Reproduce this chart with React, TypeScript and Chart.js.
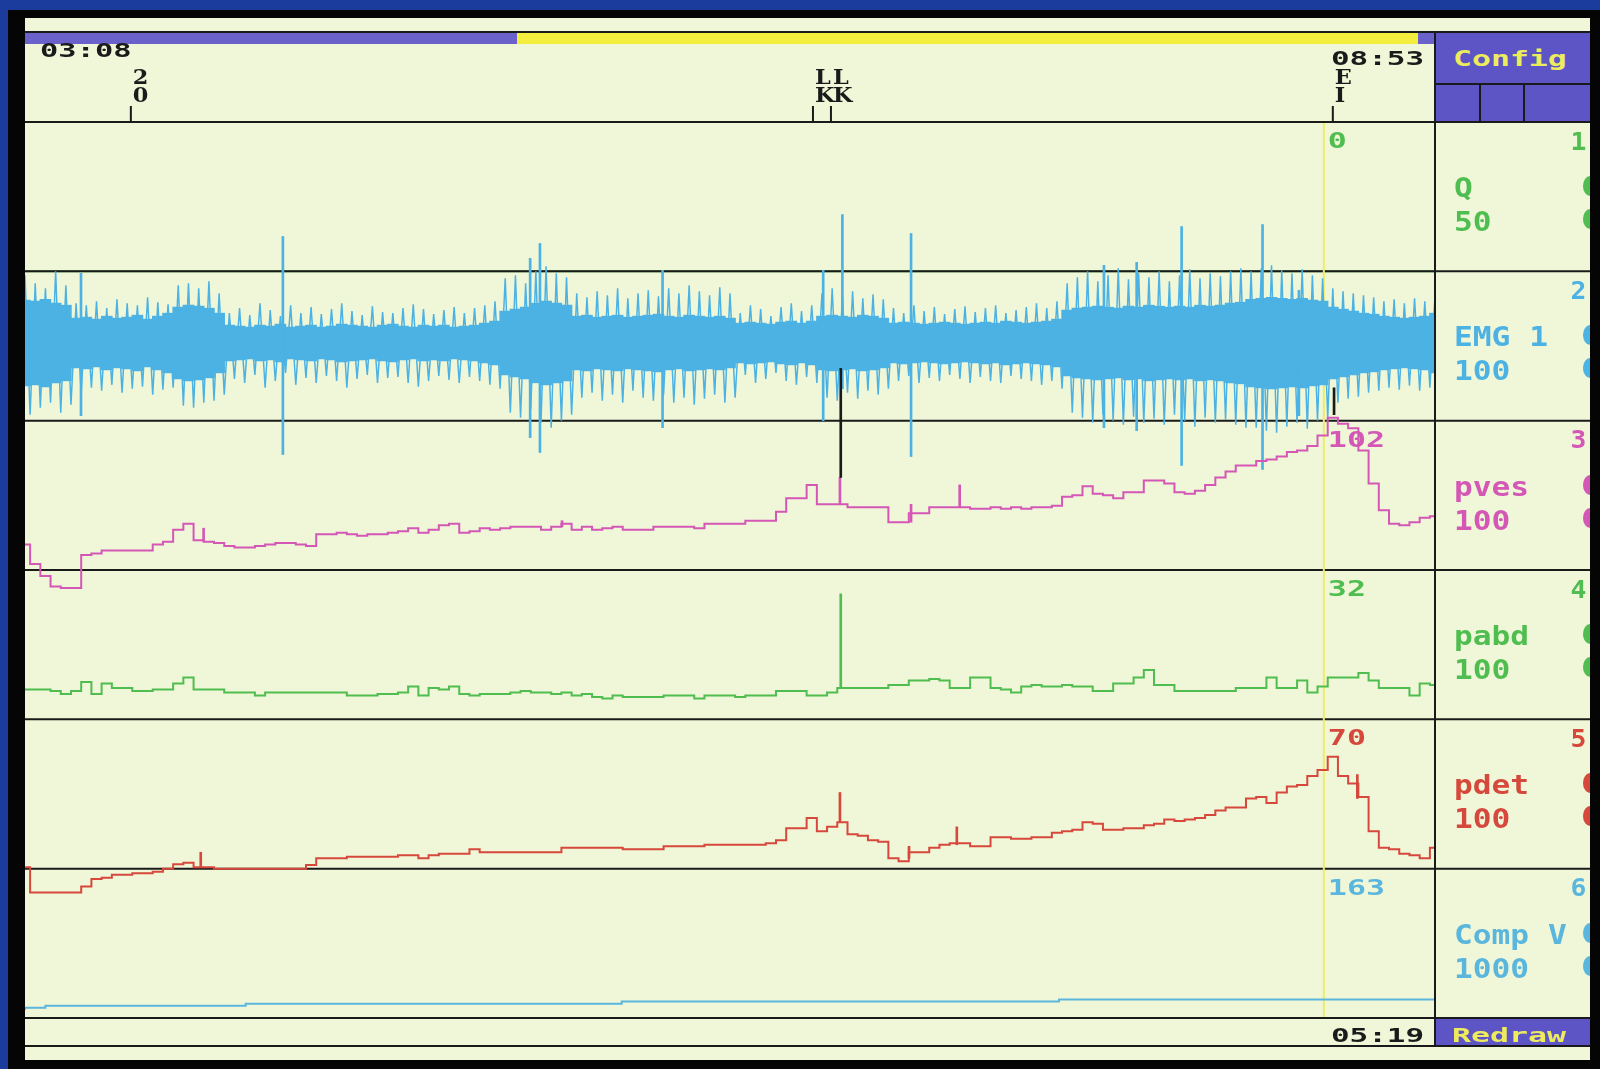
import React, { useEffect, useRef } from 'react';
import { Chart, registerables } from 'chart.js';

Chart.register(...registerables);

// ---------------- DATA ----------------
// time axis: seconds after 03:08, one sample every 2.5 s
const T_STEP = 2.5;
const T_MAX = 345;
const CURSOR_T = 317.8;

const startLabel = '03:08';
const endLabel = '08:53';
const cursorLabel = '05:19';

const channelNames = ['Q', 'EMG 1', 'pves', 'pabd', 'pdet', 'Comp V'];
const channelRanges = ['50', '100', '100', '100', '100', '1000'];
const channelNumbers = ['1', '2', '3', '4', '5', '6'];
const cursorReadouts = ['0', '', '102', '32', '70', '163'];

const eventTimes = [25.9, 192.8, 197.2, 320.0];
const eventLabels = ['20', 'LK', 'LK', 'EI'];

const qTimes = [0, 345];
const qValues = [0, 0];

const emgCore = [
  43, 42, 44, 40, 38,
  25, 26, 24, 27, 25, 26, 28, 24, 27, 30,
  36, 38, 37, 35, 30,
  18, 17, 16, 18, 17, 19, 16, 17, 18, 16, 17, 19, 18, 17, 16, 18, 19, 17, 16, 18, 17, 18, 16, 17, 18, 20, 22,
  32, 34, 36,
  40, 42, 40, 38,
  27, 28, 26, 27, 28, 26, 27, 28, 29,
  27, 26, 28, 27, 26, 27, 25,
  20, 21, 20, 19, 21, 22, 20, 22,
  27, 28, 27, 26, 28, 27, 25,
  20, 21, 20, 19, 20, 21, 20, 19, 20, 21, 20, 22, 21, 20, 21, 22, 24,
  33, 35, 36, 37, 36, 35, 37, 36, 38, 37, 36, 37, 36, 38, 37, 38, 40, 41,
  44, 45, 46, 45, 44, 45, 43, 42,
  36, 34, 32, 30, 29, 27, 26, 25, 26, 27, 30,
];
const emgHi = [
  68, 60, 55, 72, 58,
  40, 38, 42, 35, 44, 40, 38, 46, 41, 39,
  58, 60, 55, 62, 50,
  30, 35, 28, 40, 33, 27, 38, 30, 36, 29, 34, 40, 32, 28, 37, 31, 30, 35, 39, 34, 29, 33, 36, 30, 35, 38, 42,
  65, 68, 60,
  72, 77, 70, 66,
  50, 46, 52, 48, 55, 45, 50, 53, 47,
  55, 50, 58, 52, 48, 56, 50,
  30, 38, 34, 27, 36, 40, 32, 38,
  50, 55, 47, 52, 45, 49, 44,
  35, 30, 38, 32, 36, 29, 34, 37, 31, 35, 38, 30, 33, 36, 40, 35, 42,
  60, 66, 72, 62, 68, 75, 64, 70, 66, 72, 62, 68, 74, 65, 70, 67, 72, 75,
  72, 75, 78, 73, 70, 74, 68, 65,
  55, 52, 50, 48, 46, 42, 44, 40, 45, 42, 48,
];
const emgLo = [
  72, 65, 60, 70, 62,
  50, 45, 48, 42, 50, 46, 44, 52, 47, 45,
  63, 65, 60, 58, 52,
  36, 40, 32, 45, 38, 30, 42, 35, 40, 33, 38, 45, 36, 32, 40, 35, 34, 40, 44, 38, 33, 37, 40, 34, 38, 42, 46,
  70, 75, 66,
  80, 85, 78, 72,
  55, 50, 58, 52, 60, 48, 55, 58, 52,
  60, 55, 62, 56, 52, 60, 55,
  32, 40, 36, 30, 38, 42, 34, 40,
  55, 58, 50, 56, 48, 52, 46,
  38, 33, 40, 35, 38, 32, 36, 40, 34, 38, 40, 33, 36, 38, 42, 38, 46,
  70, 75, 80, 72, 78, 82, 74, 80, 76, 82, 72, 78, 84, 75, 80, 77, 82, 85,
  85, 88, 90, 84, 80, 86, 78, 75,
  60, 56, 54, 50, 48, 45, 47, 43, 48, 45, 50,
];
const emgSpikeTimes = [13.7, 63.1, 123.6, 126, 156, 195.3, 200, 216.8, 264, 272, 283, 302.8, 311.7];
const emgSpikeUp = [70, 107, 85, 100, 73, 73, 129, 110, 78, 81, 117, 119, 53];
const emgSpikeDown = [73, 112, 95, 110, 85, 78, 46, 114, 85, 88, 123, 127, 73];

const pves = [
  17, 4, -4, -11, -12, -12, 10, 11, 13, 13,
  13, 13, 13, 17, 19, 27, 31, 20, 19, 18,
  16, 15, 15, 16, 17, 18, 18, 17, 16, 24,
  24, 25, 24, 23, 24, 24, 25, 26, 28, 25,
  27, 30, 31, 25, 26, 28, 27, 28, 29, 29,
  29, 27, 29, 31, 27, 29, 27, 28, 29, 27,
  27, 27, 29, 29, 29, 29, 28, 31, 31, 31,
  31, 33, 33, 33, 39, 48, 48, 57, 44, 44,
  44, 42, 42, 42, 42, 32, 32, 38, 38, 42,
  42, 42, 42, 41, 41, 42, 41, 42, 41, 42,
  42, 43, 49, 50, 56, 51, 50, 48, 52, 52,
  60, 60, 58, 52, 51, 53, 57, 62, 66, 70,
  70, 73, 74, 76, 79, 80, 83, 90, 102, 98,
  95, 80, 58, 40, 31, 30, 32, 35, 36,
];
const pvesSpikeTimes = [43.7, 131.4, 199.4, 216.8, 228.7];
const pvesSpikeLow = [19, 29, 44, 32, 42];
const pvesSpikeHigh = [28, 33, 62, 44, 57];
const pvesArtifactTimes = [199.6, 320.3];
const pvesArtifactLow = [62, 104];
const pvesArtifactHigh = [135, 122];

const pabd = [
  20, 20, 20, 19, 17, 19, 25, 17, 24, 21,
  21, 19, 19, 20, 20, 24, 28, 20, 20, 20,
  18, 18, 18, 16, 18, 18, 18, 18, 18, 18,
  18, 18, 16, 16, 16, 17, 17, 18, 22, 16,
  21, 20, 22, 17, 16, 17, 17, 17, 18, 19,
  18, 18, 17, 18, 16, 17, 15, 14, 16, 15,
  15, 15, 15, 16, 16, 16, 14, 16, 16, 16,
  15, 16, 16, 16, 19, 19, 19, 16, 16, 18,
  21, 21, 21, 21, 21, 23, 23, 26, 26, 27,
  26, 21, 21, 28, 28, 21, 20, 18, 22, 23,
  22, 22, 23, 22, 22, 19, 19, 24, 24, 28,
  33, 23, 23, 19, 19, 19, 19, 19, 19, 21,
  21, 21, 28, 21, 21, 26, 18, 22, 28, 28,
  28, 31, 26, 21, 21, 21, 16, 24, 23,
];
const pabdSpikeTimes = [199.6];
const pabdSpikeLow = [21];
const pabdSpikeHigh = [84];

const pdet = [
  1, -16, -16, -16, -16, -16, -12, -7, -6, -4,
  -4, -3, -3, -2, 0, 3, 4, 1, 1, 0,
  0, 0, 0, 0, 0, 0, 0, 0, 2.5, 7,
  7, 7, 8, 8, 8, 8, 8, 9, 9, 7,
  9, 10, 10, 10, 13, 11, 11, 11, 11, 11,
  11, 11, 11, 14, 14, 14, 14, 14, 14, 13,
  13, 13, 13, 15, 15, 15, 15, 16, 16, 16,
  16, 16, 16, 17, 19, 27, 27, 34, 25, 28,
  31, 23, 22, 19, 18, 7, 5, 11, 11, 14,
  16, 17, 17, 15, 15, 21, 21, 20, 20, 21,
  21, 24, 25, 26, 31, 30, 26, 26, 27, 27,
  29, 30, 33, 32, 33, 34, 36, 39, 41, 41,
  47, 48, 44, 51, 55, 56, 62, 66, 75, 62,
  57, 48, 25, 14, 13, 10, 9, 7, 14,
];
const pdetSpikeTimes = [43, 199.4, 216.3, 228, 326];
const pdetSpikeLow = [1, 31, 7, 16, 47];
const pdetSpikeHigh = [11, 51, 15, 28, 63];

const compTimes = [0, 5, 54, 146, 253, 303, 345];
const compValues = [55, 68, 82, 96, 110, 124, 124];

// ---------------- STYLE / LAYOUT ----------------
const BLUE = '#1b3c9c';
const CREAM = '#f0f7d8';
const PURPLE = '#5d54c6';
const YELLOW = '#f3ee3e';
const TEXT_YELLOW = '#ecec5c';
const INK = '#1a1a1a';
const CURSOR = '#eeec6a';
const COLORS = ['#4fbd4f', '#4cb2e4', '#d457b6', '#4fbd4f', '#d6483b', '#5ab6dc'];
const AXES = ['yQ', 'yEmg', 'yPves', 'yPabd', 'yPdet', 'yComp'];
const AXIS_MIN = [0, -78, 0, 0, 0, 0];
const AXIS_MAX = [50, 72, 100, 100, 100, 1000];
const PANEL_TOP = 122;
const PANEL_H = 896 / 6;
const FONT = '"DejaVu Sans Mono", monospace';
const SERIF = '"DejaVu Serif", serif';
const CLIP = { left: 0, right: 0, top: false, bottom: false };

const series = (vals: number[]) => vals.map((v, i) => ({ x: i * T_STEP, y: v }));
const pairs = (ts: number[], vs: number[]) => ts.map((t, i) => ({ x: t, y: vs[i] }));
const ranges = (ts: number[], lo: number[], hi: number[]) => ts.map((t, i) => ({ x: t, y: [lo[i], hi[i]] }));

function drawStretched(ctx: CanvasRenderingContext2D, text: string, x: number, y: number, sx: number) {
  ctx.save();
  ctx.translate(x, y);
  ctx.scale(sx, 1);
  ctx.fillText(text, 0, 0);
  ctx.restore();
}

const overlayPlugin = {
  id: 'uroOverlay',
  afterDatasetDraw(chart: any, args: any) {
    if (args.index !== 0) return;
    const ctx: CanvasRenderingContext2D = chart.ctx;
    const ca = chart.chartArea;
    ctx.save();
    ctx.strokeStyle = INK;
    ctx.lineWidth = 2;
    const hline = (y: number) => {
      ctx.beginPath();
      ctx.moveTo(0, y);
      ctx.lineTo(chart.width, y);
      ctx.stroke();
    };
    AXES.forEach((id) => hline(chart.scales[id].top));
    hline(chart.scales.yComp.bottom);
    const cx = chart.scales.x.getPixelForValue(CURSOR_T);
    ctx.strokeStyle = CURSOR;
    ctx.lineWidth = 2;
    ctx.beginPath();
    ctx.moveTo(cx, ca.top + 1);
    ctx.lineTo(cx, ca.bottom - 1);
    ctx.stroke();
    ctx.restore();
  },
  afterDatasetsDraw(chart: any) {
    const ctx: CanvasRenderingContext2D = chart.ctx;
    const xs = chart.scales.x;
    const top = chart.scales.yQ.top;
    ctx.save();
    ctx.fillStyle = INK;
    ctx.textBaseline = 'alphabetic';
    ctx.font = `bold 20px ${SERIF}`;
    eventTimes.forEach((t, k) => {
      const px = xs.getPixelForValue(t);
      ctx.fillRect(px - 1, top - 16, 2, 16);
      eventLabels[k].split('').forEach((c, j) => drawStretched(ctx, c, px + 2, top - 38 + j * 18, 1.12));
    });
    const cx = xs.getPixelForValue(CURSOR_T);
    ctx.font = `bold 22px ${FONT}`;
    cursorReadouts.forEach((txt, k) => {
      if (!txt) return;
      ctx.fillStyle = COLORS[k];
      drawStretched(ctx, txt, cx + 4, chart.scales[AXES[k]].top + 26, 1.44);
    });
    ctx.restore();
  },
};

function buildConfig(): any {
  const scales: any = {
    x: { type: 'linear', min: 0, max: T_MAX, display: false, offset: false },
  };
  for (let k = AXES.length - 1; k >= 0; k--) {
    scales[AXES[k]] = {
      type: 'linear',
      position: 'left',
      stack: 'channels',
      stackWeight: 1,
      min: AXIS_MIN[k],
      max: AXIS_MAX[k],
      offset: false,
      display: true,
      ticks: { display: false },
      grid: { display: false, drawTicks: false },
      border: { display: false },
      title: { display: false },
      afterFit: (s: any) => { s.width = 0; },
    };
  }
  const line = (label: string, data: any[], axis: string, color: string, order: number, stepped: any, width = 2) => ({
    type: 'line', label, data, yAxisID: axis, borderColor: color, borderWidth: width,
    pointRadius: 0, pointHoverRadius: 0, stepped, tension: 0, fill: false, order, clip: CLIP,
  });
  const bars = (label: string, data: any[], axis: string, color: string, order: number, thick: number) => ({
    type: 'bar', label, data, yAxisID: axis, backgroundColor: color, borderWidth: 0,
    barThickness: thick, grouped: false, order, clip: CLIP,
  });
  const emgCoreData = emgCore.map((a, i) => ({ x: i * T_STEP, y: [-a, a] }));
  const emgZigData = emgHi.flatMap((h, i) => [
    { x: i * T_STEP, y: h },
    { x: i * T_STEP + T_STEP / 2, y: -emgLo[i] },
  ]);
  const emgSpikeData = emgSpikeTimes.map((t, i) => ({ x: t, y: [-emgSpikeDown[i], emgSpikeUp[i]] }));
  return {
    type: 'line',
    data: {
      datasets: [
        line('Q', pairs(qTimes, qValues), 'yQ', COLORS[0], 100, 'after'),
        bars('EMG core', emgCoreData, 'yEmg', COLORS[1], 9, 11),
        line('EMG', emgZigData, 'yEmg', COLORS[1], 8, false, 1.5),
        bars('EMG spikes', emgSpikeData, 'yEmg', COLORS[1], 7, 2),
        line('pves', series(pves), 'yPves', COLORS[2], 3, 'middle'),
        bars('pves spikes', ranges(pvesSpikeTimes, pvesSpikeLow, pvesSpikeHigh), 'yPves', COLORS[2], 3, 2),
        bars('pves artefact', ranges(pvesArtifactTimes, pvesArtifactLow, pvesArtifactHigh), 'yPves', INK, 0, 2),
        line('pabd', series(pabd), 'yPabd', COLORS[3], 3, 'middle'),
        bars('pabd spikes', ranges(pabdSpikeTimes, pabdSpikeLow, pabdSpikeHigh), 'yPabd', COLORS[3], 3, 2),
        line('pdet', series(pdet), 'yPdet', COLORS[4], 3, 'middle'),
        bars('pdet spikes', ranges(pdetSpikeTimes, pdetSpikeLow, pdetSpikeHigh), 'yPdet', COLORS[4], 3, 2),
        line('Comp V', pairs(compTimes, compValues), 'yComp', COLORS[5], 3, 'after'),
      ],
    },
    options: {
      animation: false,
      responsive: true,
      maintainAspectRatio: false,
      events: [],
      layout: { padding: { left: 0, right: 155, top: 104, bottom: 42 } },
      plugins: { legend: { display: false }, tooltip: { enabled: false } },
      scales,
    },
    plugins: [overlayPlugin],
  };
}

type TxtProps = { x: number; base: number; text: string; color: string; size: number; sx: number; align?: 'left' | 'right' };
function Txt({ x, base, text, color, size, sx, align = 'left' }: TxtProps) {
  const style: React.CSSProperties = {
    position: 'absolute',
    top: base - 0.846 * size,
    fontFamily: FONT,
    fontWeight: 'bold',
    fontSize: size,
    lineHeight: 1,
    color,
    whiteSpace: 'pre',
    transform: `scaleX(${sx})`,
    transformOrigin: align === 'left' ? 'left top' : 'right top',
  };
  if (align === 'left') style.left = x; else style.right = 1600 - x;
  return <div style={style}>{text}</div>;
}

const box = (left: number, top: number, width: number, height: number, bg: string, extra: React.CSSProperties = {}): React.CSSProperties => ({
  position: 'absolute', left, top, width, height, background: bg, ...extra,
});

export default function App() {
  const ref = useRef<HTMLCanvasElement>(null);
  useEffect(() => {
    const chart = new Chart(ref.current as HTMLCanvasElement, buildConfig());
    return () => chart.destroy();
  }, []);

  const panelTop = (k: number) => PANEL_TOP + k * PANEL_H;

  return (
    <div style={box(0, 0, 1600, 1069, BLUE, { overflow: 'hidden' })}>
      <div style={box(8, 10, 1592, 1059, '#050505')} />
      <div style={box(25, 18, 1565, 1042, CREAM)} />
      {/* header strip */}
      <div style={box(25, 31, 1565, 2, INK)} />
      <div style={box(25, 33, 492, 11, '#6b61cb')} />
      <div style={box(517, 33, 901, 11, YELLOW)} />
      <div style={box(1418, 33, 17, 11, '#6b61cb')} />
      {/* chart */}
      <div style={box(25, 18, 1565, 1042, 'transparent')}>
        <canvas ref={ref} />
      </div>
      {/* right panel frame */}
      <div style={box(1434, 33, 2, 1014, INK)} />
      <div style={box(1436, 33, 154, 50, PURPLE)} />
      <div style={box(1436, 83, 154, 2, INK)} />
      <div style={box(1436, 85, 154, 36, PURPLE)} />
      <div style={box(1479, 85, 2, 36, INK)} />
      <div style={box(1523, 85, 2, 36, INK)} />
      <div style={box(1436, 1019, 154, 26, PURPLE)} />
      <div style={box(25, 1045, 1565, 2, INK)} />
      <Txt x={1453} base={67} text="Config" color={TEXT_YELLOW} size={21} sx={1.5} />
      <Txt x={1452} base={1042} text="Redraw" color={TEXT_YELLOW} size={20} sx={1.58} />
      <Txt x={40} base={57} text={startLabel} color={INK} size={19} sx={1.6} />
      <Txt x={1424} base={65} text={endLabel} color={INK} size={20} sx={1.55} align="right" />
      <Txt x={1424} base={1042} text={cursorLabel} color={INK} size={20} sx={1.55} align="right" />
      {channelNames.map((name, k) => (
        <React.Fragment key={name}>
          <Txt x={1586} base={panelTop(k) + 28} text={channelNumbers[k]} color={COLORS[k]} size={24} sx={1.1} align="right" />
          <Txt x={1454} base={panelTop(k) + 75} text={name} color={COLORS[k]} size={26} sx={1.2} />
          <Txt x={1454} base={panelTop(k) + 109} text={channelRanges[k]} color={COLORS[k]} size={26} sx={1.2} />
          <div style={box(1583, panelTop(k) + 54, 14, 20, COLORS[k], { borderRadius: '50%' })} />
          <div style={box(1583, panelTop(k) + 87, 14, 20, COLORS[k], { borderRadius: '50%' })} />
        </React.Fragment>
      ))}
      <div style={box(1590, 18, 10, 1051, '#050505')} />
    </div>
  );
}
